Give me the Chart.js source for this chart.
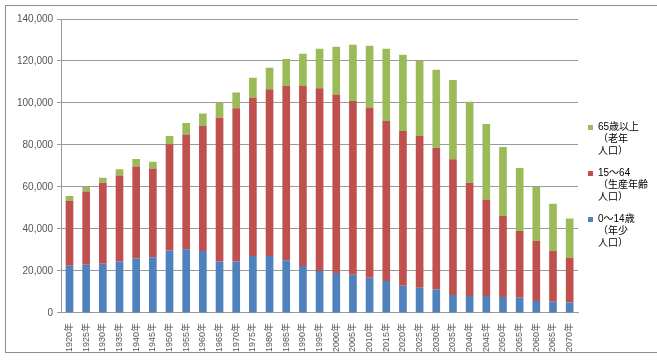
<!DOCTYPE html>
<html>
<head>
<meta charset="utf-8">
<script src="https://cdn.jsdelivr.net/npm/chart.js@4/dist/chart.umd.min.js"></script>
<style>
  html, body { margin: 0; padding: 0; background: #fff; }
  #frame {
    position: absolute; left: 5px; top: 5px; width: 660px; height: 348px;
    border: 1px solid #8c8c8c; box-sizing: border-box;
  }
  #wrap { position: absolute; left: 0; top: 0; width: 652px; height: 348px; }
</style>
</head>
<body>
<div id="frame"><div id="wrap"><canvas id="chart"></canvas></div></div>
<script>
const years = [
  "1920年", "1925年", "1930年", "1935年", "1940年", "1945年", "1950年", "1955年",
  "1960年", "1965年", "1970年", "1975年", "1980年", "1985年", "1990年", "1995年",
  "2000年", "2005年", "2010年", "2015年", "2020年", "2025年", "2030年", "2035年",
  "2040年", "2045年", "2050年", "2055年", "2060年", "2065年", "2070年"
]

// 0~14歳
const youth = [
  22500, 23000, 23500, 24500, 26000, 26500, 29800, 30300, 29500, 24500, 24500,
  27100, 27100, 25100, 22400, 20000, 19000, 18200, 16800, 15200, 13000, 12000,
  11200, 8600, 8100, 8100, 7600, 7300, 5700, 5400, 5000
]

// 15~64
const working = [
  30800, 34800, 38500, 41000, 43800, 42300, 50500, 54700, 59500, 68500, 73000,
  75400, 79400, 83000, 85700, 87000, 85100, 82800, 81000, 76200, 73700, 72300,
  67500, 64600, 53900, 46000, 38600, 31700, 28600, 24100, 21300
]

// 65歳以上
const elderly = [
  2400, 2200, 2400, 3000, 3500, 3200, 4000, 5500, 6000, 7000, 7500,
  9500, 10300, 12900, 15300, 18800, 22700, 26700, 29500, 34400, 36300, 35700,
  37100, 37800, 38600, 35900, 32800, 30000, 25700, 22500, 18700
]

const yTicks = [0, 20000, 40000, 60000, 80000, 100000, 120000, 140000]

const colors = {
  youth: "#4f81bd",
  working: "#c0504d",
  elderly: "#9bbb59",
  grid: "#9a9a9a",
  text: "#555555"
}

const font = "'Liberation Sans', 'Noto Sans CJK JP', sans-serif"

const barStyle = {
  categoryPercentage: 1,
  barPercentage: 0.46,
  borderWidth: 0
}

const ctx = document.getElementById("chart").getContext("2d")

new Chart(ctx, {
  type: "bar",
  data: {
    labels: years,
    datasets: [
      {
        label: ["0〜14歳", "（年少", "人口）"],
        data: youth,
        backgroundColor: colors.youth,
        ...barStyle
      },
      {
        label: ["15〜64", "（生産年齢", "人口）"],
        data: working,
        backgroundColor: colors.working,
        ...barStyle
      },
      {
        label: ["65歳以上", "（老年", "人口）"],
        data: elderly,
        backgroundColor: colors.elderly,
        ...barStyle
      }
    ]
  },
  options: {
    responsive: true,
    maintainAspectRatio: false,
    animation: false,
    locale: "en-US",
    layout: {
      padding: { left: 7, top: 13, right: 0, bottom: 0 }
    },
    plugins: {
      tooltip: { enabled: false },
      legend: {
        position: "right",
        align: "center",
        reverse: true,
        labels: {
          boxWidth: 5,
          boxHeight: 5,
          padding: 10,
          color: colors.text,
          font: { size: 10, family: font, lineHeight: 1.2 },
          generateLabels(chart) {
            return chart.data.datasets.map((ds, i) => ({
              text: ds.label,
              fillStyle: ds.backgroundColor,
              strokeStyle: ds.backgroundColor,
              lineWidth: 0,
              datasetIndex: i,
              hidden: false
            }))
          }
        }
      }
    },
    scales: {
      x: {
        stacked: true,
        grid: {
          display: false,
          drawOnChartArea: false
        },
        border: { color: colors.grid },
        ticks: {
          color: colors.text,
          font: { size: 9, family: font },
          minRotation: 90,
          maxRotation: 90,
          autoSkip: false,
          padding: 2
        }
      },
      y: {
        stacked: true,
        min: 0,
        max: 140000,
        afterBuildTicks(scale) {
          scale.ticks = yTicks.map(v => ({ value: v }))
        },
        grid: {
          color: colors.grid,
          tickLength: 4
        },
        border: { color: colors.grid },
        ticks: {
          color: colors.text,
          font: { size: 10, family: font },
          padding: 4
        }
      }
    }
  }
})
</script>
</body>
</html>
